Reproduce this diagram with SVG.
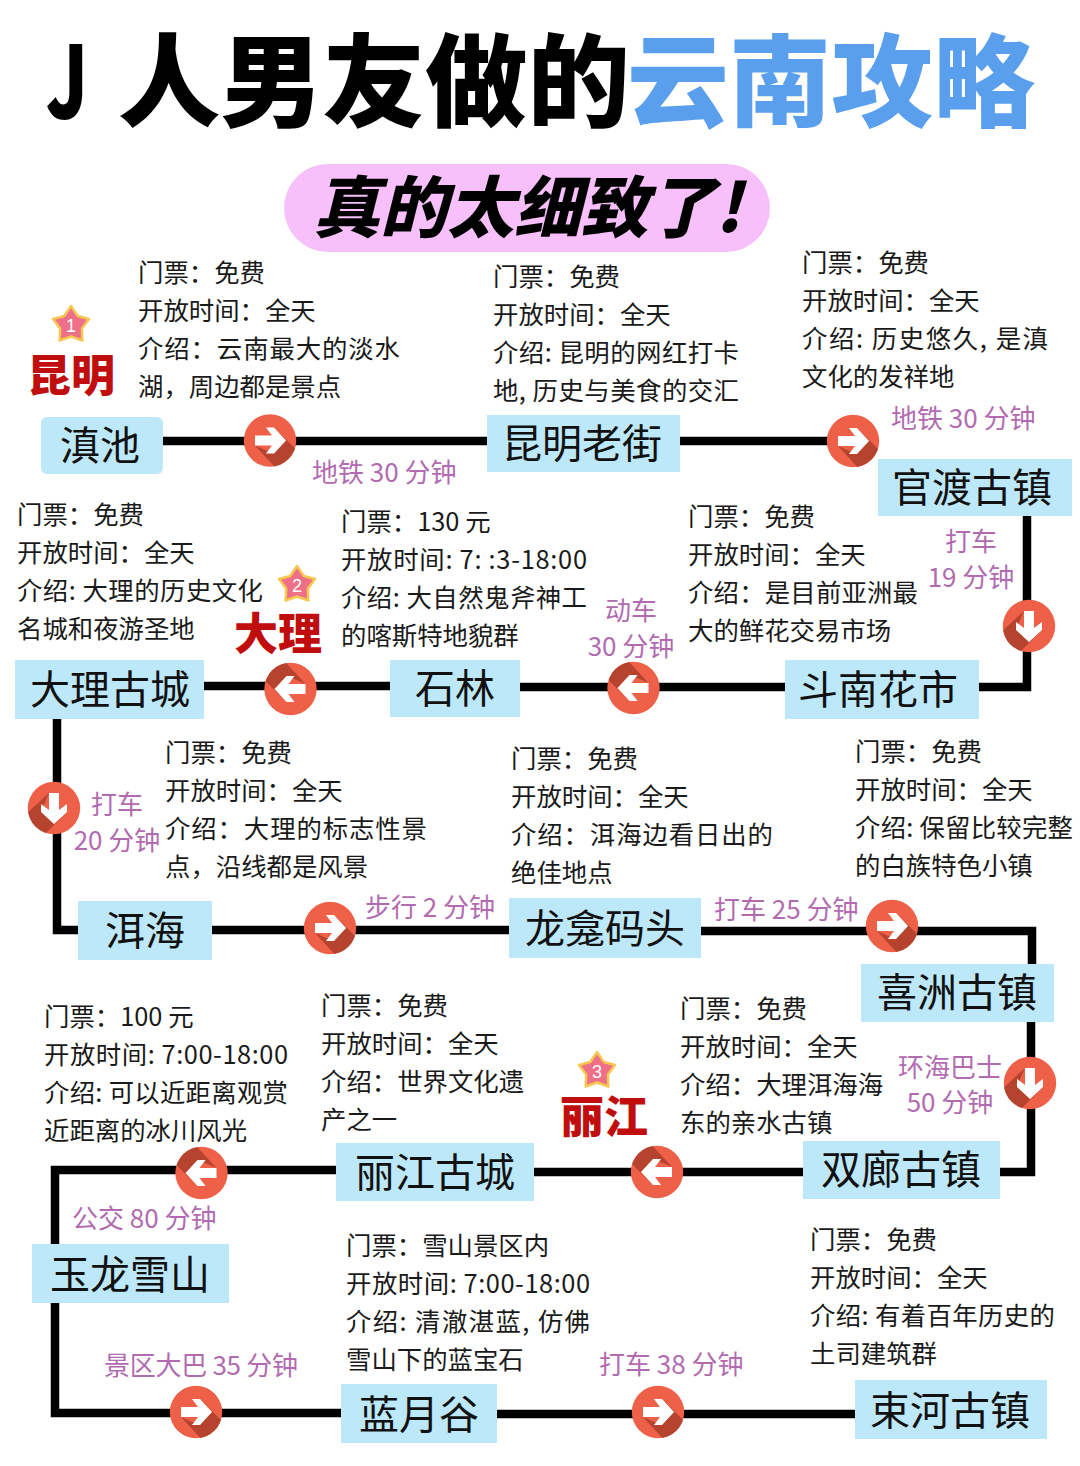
<svg xmlns="http://www.w3.org/2000/svg" xmlns:xlink="http://www.w3.org/1999/xlink" width="1080" height="1466" viewBox="0 0 1080 1466">
<style>
text{font-family:"Noto Sans CJK SC","Noto Sans",sans-serif}
.title{font-size:101px;font-weight:900}
.sub{font-size:67px;font-weight:900;font-style:italic}
.n rect{fill:#bde8fa}
.n text{font-size:40px;fill:#111;text-anchor:middle}
.i{font-size:25.4px;fill:#1a1a1a}
.p{font-size:26px;fill:#b26bb0}
.m{text-anchor:middle}
.c{font-size:44px;font-weight:900;fill:#c00d0d;text-anchor:middle}
.s{font-size:18px;fill:#fff;text-anchor:middle;font-family:"Liberation Sans",sans-serif}
.l{fill:none;stroke:#000;stroke-width:8.500}
</style>
<defs>
<clipPath id="cc"><circle r="26.200"/></clipPath>
<g id="go">
<circle r="26.200" fill="#ee6047"/>
<polygon clip-path="url(#cc)" points="-15,5 3,13 16,0 4,-13 40,23 20,43 " fill="#b5432e"/>
<polygon points="-15,-5 2,-5 -4,-13 4,-13 16,0 4,13 -4,13 2,5 -15,5" fill="#fff"/>
</g>
<polygon id="star" points="0,-19 6.800,-9 18,-6 10.900,3.600 11.300,15.500 0,11.500 -11.300,15.500 -10.900,3.600 -18,-6 -6.800,-9" fill="#ee7088" stroke="#f6c850" stroke-width="2.500" stroke-linejoin="round"/>
</defs>
<rect width="1080" height="1466" fill="#fff"/>
<text class="title" x="46" y="119" fill="#000" textLength="42" lengthAdjust="spacingAndGlyphs">J</text>
<text class="title" x="118" y="119" fill="#000" textLength="512" lengthAdjust="spacingAndGlyphs">人男友做的</text>
<text class="title" x="627" y="119" fill="#5a9fee" textLength="408" lengthAdjust="spacingAndGlyphs">云南攻略</text>
<rect x="284" y="164" width="486" height="88" rx="44" fill="#f7c0fa"/>
<text class="sub" x="313" y="232" fill="#000">真的太细致了!</text>
<g id="connectors" class="l">
<path d="M163 441H487"/><path d="M680 441H878"/>
<path d="M1027 516V687H979"/><path d="M785 687H520"/><path d="M390 686H204"/>
<path d="M57 719V930H78"/><path d="M212 930H509"/><path d="M701 931H1032V964"/>
<path d="M1031 1022V1172H1000"/><path d="M803 1172H534"/><path d="M336 1170H55V1244"/>
<path d="M55 1303V1413H341"/><path d="M497 1414H855"/>
</g>
<g id="arrows">
<use xlink:href="#go" href="#go" transform="translate(270 440.500)"/>
<use xlink:href="#go" href="#go" transform="translate(853 441)"/>
<use xlink:href="#go" href="#go" transform="translate(1029 626) rotate(90)"/>
<use xlink:href="#go" href="#go" transform="translate(633.500 688) rotate(180)"/>
<use xlink:href="#go" href="#go" transform="translate(290.500 689) rotate(180)"/>
<use xlink:href="#go" href="#go" transform="translate(54 808) rotate(90)"/>
<use xlink:href="#go" href="#go" transform="translate(330 928)"/>
<use xlink:href="#go" href="#go" transform="translate(892 926)"/>
<use xlink:href="#go" href="#go" transform="translate(1030 1083) rotate(90)"/>
<use xlink:href="#go" href="#go" transform="translate(657 1172) rotate(180)"/>
<use xlink:href="#go" href="#go" transform="translate(201.500 1173) rotate(180)"/>
<use xlink:href="#go" href="#go" transform="translate(196 1412)"/>
<use xlink:href="#go" href="#go" transform="translate(658 1412)"/>
</g>
<g id="dianchi" class="n"><rect x="41" y="417" width="122" height="57" rx="6"/><text x="100" y="460">滇池</text></g>
<g id="laojie" class="n"><rect x="487" y="415" width="193" height="57"/><text x="582" y="458">昆明老街</text></g>
<g id="guandu" class="n"><rect x="878" y="459" width="194" height="57"/><text x="972" y="502">官渡古镇</text></g>
<g id="dounan" class="n"><rect x="785" y="660" width="194" height="59"/><text x="878" y="704">斗南花市</text></g>
<g id="shilin" class="n"><rect x="390" y="660" width="130" height="57"/><text x="455" y="703">石林</text></g>
<g id="dali" class="n"><rect x="15" y="660" width="189" height="59"/><text x="110" y="704">大理古城</text></g>
<g id="erhai" class="n"><rect x="78" y="901" width="134" height="59"/><text x="145" y="945">洱海</text></g>
<g id="longkan" class="n"><rect x="509" y="898" width="192" height="60"/><text x="605" y="943">龙龛码头</text></g>
<g id="xizhou" class="n"><rect x="861" y="964" width="193" height="58"/><text x="957" y="1007">喜洲古镇</text></g>
<g id="shuanglang" class="n"><rect x="803" y="1141" width="197" height="58"/><text x="901" y="1184">双廊古镇</text></g>
<g id="lijiang" class="n"><rect x="336" y="1143" width="198" height="58"/><text x="435" y="1187">丽江古城</text></g>
<g id="yulong" class="n"><rect x="32" y="1244" width="197" height="59"/><text x="130" y="1289">玉龙雪山</text></g>
<g id="lanyue" class="n"><rect x="341" y="1384" width="156" height="59"/><text x="419" y="1429">蓝月谷</text></g>
<g id="shuhe" class="n"><rect x="855" y="1380" width="192" height="59"/><text x="950" y="1425">束河古镇</text></g>
<g id="cities">
<use xlink:href="#star" href="#star" x="71" y="325"/><text class="s" x="71" y="332">1</text>
<text class="c" x="71" y="392">昆明</text>
<use xlink:href="#star" href="#star" x="297" y="585"/><text class="s" x="297" y="592">2</text>
<text class="c" x="278" y="650">大理</text>
<use xlink:href="#star" href="#star" x="597" y="1071"/><text class="s" x="597" y="1078">3</text>
<text class="c" x="604" y="1133">丽江</text>
</g>
<g id="info">
<g class="i">
<text x="138" y="282">门票：免费</text><text x="138" y="320">开放时间：全天</text><text x="138" y="358" textLength="262">介绍：云南最大的淡水</text><text x="138" y="396">湖，周边都是景点</text>
<text x="493" y="286">门票：免费</text><text x="493" y="324">开放时间：全天</text><text x="493" y="362" textLength="246">介绍: 昆明的网红打卡</text><text x="493" y="400" textLength="246">地, 历史与美食的交汇</text>
<text x="802" y="272">门票：免费</text><text x="802" y="310">开放时间：全天</text><text x="802" y="348" textLength="246">介绍: 历史悠久, 是滇</text><text x="802" y="386">文化的发祥地</text>
<text x="17" y="524">门票：免费</text><text x="17" y="562">开放时间：全天</text><text x="17" y="600" textLength="246">介绍: 大理的历史文化</text><text x="17" y="638">名城和夜游圣地</text>
<text x="341" y="531">门票：130 元</text><text x="341" y="569" textLength="246">开放时间: 7: :3-18:00</text><text x="341" y="607" textLength="246">介绍: 大自然鬼斧神工</text><text x="341" y="645">的喀斯特地貌群</text>
<text x="688" y="526">门票：免费</text><text x="688" y="564">开放时间：全天</text><text x="688" y="602" textLength="230">介绍：是目前亚洲最</text><text x="688" y="640">大的鲜花交易市场</text>
<text x="165" y="762">门票：免费</text><text x="165" y="800">开放时间：全天</text><text x="165" y="838" textLength="262">介绍：大理的标志性景</text><text x="165" y="876">点，沿线都是风景</text>
<text x="511" y="768">门票：免费</text><text x="511" y="806">开放时间：全天</text><text x="511" y="844" textLength="262">介绍：洱海边看日出的</text><text x="511" y="882">绝佳地点</text>
<text x="855" y="761">门票：免费</text><text x="855" y="799">开放时间：全天</text><text x="855" y="837" textLength="218">介绍: 保留比较完整</text><text x="855" y="875">的白族特色小镇</text>
<text x="44" y="1026">门票：100 元</text><text x="44" y="1064" textLength="244">开放时间: 7:00-18:00</text><text x="44" y="1102" textLength="244">介绍: 可以近距离观赏</text><text x="44" y="1140">近距离的冰川风光</text>
<text x="321" y="1015">门票：免费</text><text x="321" y="1053">开放时间：全天</text><text x="321" y="1091">介绍：世界文化遗</text><text x="321" y="1129">产之一</text>
<text x="680" y="1018">门票：免费</text><text x="680" y="1056">开放时间：全天</text><text x="680" y="1094">介绍：大理洱海海</text><text x="680" y="1132">东的亲水古镇</text>
<text x="346" y="1255">门票：雪山景区内</text><text x="346" y="1293" textLength="244">开放时间: 7:00-18:00</text><text x="346" y="1331" textLength="244">介绍: 清澈湛蓝, 仿佛</text><text x="346" y="1369">雪山下的蓝宝石</text>
<text x="810" y="1249">门票：免费</text><text x="810" y="1287">开放时间：全天</text><text x="810" y="1325" textLength="245">介绍: 有着百年历史的</text><text x="810" y="1363">土司建筑群</text>
</g>
</g>
<g id="labels" class="p">
<text x="312" y="482">地铁 30 分钟</text>
<text x="891" y="428">地铁 30 分钟</text>
<text class="m" x="971" y="551">打车</text><text class="m" x="971" y="587">19 分钟</text>
<text class="m" x="631" y="620">动车</text><text class="m" x="631" y="656">30 分钟</text>
<text class="m" x="117" y="814">打车</text><text class="m" x="117" y="850">20 分钟</text>
<text x="365" y="917">步行 2 分钟</text>
<text x="714" y="919">打车 25 分钟</text>
<text class="m" x="950" y="1077">环海巴士</text><text class="m" x="950" y="1112">50 分钟</text>
<text x="72" y="1228">公交 80 分钟</text>
<text x="104" y="1375" textLength="194">景区大巴 35 分钟</text>
<text x="599" y="1374">打车 38 分钟</text>
</g>
</svg>
